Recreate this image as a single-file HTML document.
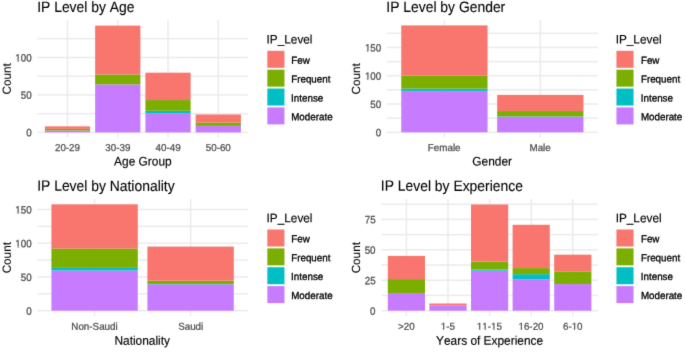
<!DOCTYPE html>
<html><head><meta charset="utf-8"><style>
html,body{margin:0;padding:0;background:#fff;width:685px;height:352px;overflow:hidden}
svg{display:block;will-change:transform}
text{font-family:"Liberation Sans",sans-serif;text-rendering:geometricPrecision;font-kerning:none;font-feature-settings:"kern" 0}
</style></head><body>
<svg width="685" height="352" viewBox="0 0 685 352">
<defs><filter id="b" x="0" y="0" width="685" height="352" filterUnits="userSpaceOnUse" color-interpolation-filters="sRGB"><feConvolveMatrix order="3" kernelMatrix="0.01000 0.08000 0.01000 0.08000 0.64000 0.08000 0.01000 0.08000 0.01000" edgeMode="duplicate" preserveAlpha="true"/></filter></defs>
<g filter="url(#b)">
<rect width="685" height="352" fill="#fff"/>
<rect x="37.4" y="112.91" width="210.5" height="1.5" fill="#EBEBEB"/>
<rect x="37.4" y="75.43" width="210.5" height="1.5" fill="#EBEBEB"/>
<rect x="37.4" y="37.95" width="210.5" height="1.5" fill="#EBEBEB"/>
<rect x="37.4" y="131.65" width="210.5" height="1.5" fill="#EBEBEB"/>
<rect x="37.4" y="94.17" width="210.5" height="1.5" fill="#EBEBEB"/>
<rect x="37.4" y="56.69" width="210.5" height="1.5" fill="#EBEBEB"/>
<rect x="66.75" y="20" width="1.5" height="117.5" fill="#EBEBEB"/>
<rect x="117.01" y="20" width="1.5" height="117.5" fill="#EBEBEB"/>
<rect x="167.27" y="20" width="1.5" height="117.5" fill="#EBEBEB"/>
<rect x="217.53" y="20" width="1.5" height="117.5" fill="#EBEBEB"/>
<rect x="44.89" y="130.5" width="45.23" height="1.9" fill="#C77CFF"/>
<rect x="44.89" y="128.9" width="45.23" height="1.6" fill="#7CAE00"/>
<rect x="44.89" y="126.35" width="45.23" height="2.55" fill="#F8766D"/>
<rect x="95.14" y="84.35" width="45.23" height="48.05" fill="#C77CFF"/>
<rect x="95.14" y="74.5" width="45.23" height="9.85" fill="#7CAE00"/>
<rect x="95.14" y="25.6" width="45.23" height="48.9" fill="#F8766D"/>
<rect x="145.4" y="113.55" width="45.23" height="18.85" fill="#C77CFF"/>
<rect x="145.4" y="110.8" width="45.23" height="2.75" fill="#00BFC4"/>
<rect x="145.4" y="100.05" width="45.23" height="10.75" fill="#7CAE00"/>
<rect x="145.4" y="72.7" width="45.23" height="27.35" fill="#F8766D"/>
<rect x="195.66" y="125.9" width="45.23" height="6.5" fill="#C77CFF"/>
<rect x="195.66" y="122.5" width="45.23" height="3.4" fill="#7CAE00"/>
<rect x="195.66" y="114.5" width="45.23" height="8" fill="#F8766D"/>
<text transform="matrix(1,0.0005,0,1.08,37.17,12)" font-size="13.9" fill="#000000" stroke="#000000" stroke-width="0.1">IP Level by Age</text>
<text transform="matrix(1,0.0005,0,1.08,26.22,136.35)" font-size="9.82" fill="#4D4D4D" stroke="#4D4D4D" stroke-width="0.25">0</text>
<text transform="matrix(1,0.0005,0,1.08,20.76,98.87)" font-size="9.82" fill="#4D4D4D" stroke="#4D4D4D" stroke-width="0.25">50</text>
<text transform="matrix(1,0.0005,0,1.08,15.3,61.39)" font-size="9.82" fill="#4D4D4D" stroke="#4D4D4D" stroke-width="0.25">100</text>
<text transform="matrix(1,0.0005,0,1.02,54.93,151)" font-size="9.82" fill="#4D4D4D" stroke="#4D4D4D" stroke-width="0.25">20-29</text>
<text transform="matrix(1,0.0005,0,1.02,105.25,151)" font-size="9.82" fill="#4D4D4D" stroke="#4D4D4D" stroke-width="0.25">30-39</text>
<text transform="matrix(1,0.0005,0,1.02,155.58,151)" font-size="9.82" fill="#4D4D4D" stroke="#4D4D4D" stroke-width="0.25">40-49</text>
<text transform="matrix(1,0.0005,0,1.02,205.72,151)" font-size="9.82" fill="#4D4D4D" stroke="#4D4D4D" stroke-width="0.25">50-60</text>
<text transform="matrix(1,0.0005,0,1.05,114.11,165.5)" font-size="11.9" fill="#000000" stroke="#000000" stroke-width="0.15">Age Group</text>
<text transform="matrix(0.0005,-1,1.0,0,10.7,94.41)" font-size="11.73" fill="#000000" stroke="#000000" stroke-width="0.1">Count</text>
<text transform="matrix(1,0.0005,0,1.035,266.56,43.6)" font-size="11.8" fill="#000000" stroke="#000000" stroke-width="0.15">IP_Level</text>
<rect x="267.35" y="50.8" width="17.1" height="17" fill="#F8766D"/>
<text transform="matrix(1,0.0005,0,1.04,291.2,63.65)" font-size="9.8" fill="#000000" stroke="#000000" stroke-width="0.3">Few</text>
<rect x="267.35" y="69.67" width="17.1" height="17" fill="#7CAE00"/>
<text transform="matrix(1,0.0005,0,1.04,291.2,82.52)" font-size="9.8" fill="#000000" stroke="#000000" stroke-width="0.3">Frequent</text>
<rect x="267.35" y="88.54" width="17.1" height="17" fill="#00BFC4"/>
<text transform="matrix(1,0.0005,0,1.04,291.1,101.39)" font-size="9.8" fill="#000000" stroke="#000000" stroke-width="0.3">Intense</text>
<rect x="267.35" y="107.41" width="17.1" height="17" fill="#C77CFF"/>
<text transform="matrix(1,0.0005,0,1.04,291.2,120.26)" font-size="9.8" fill="#000000" stroke="#000000" stroke-width="0.3">Moderate</text>
<rect x="386.95" y="117.41" width="210.8" height="1.5" fill="#EBEBEB"/>
<rect x="386.95" y="89.12" width="210.8" height="1.5" fill="#EBEBEB"/>
<rect x="386.95" y="60.84" width="210.8" height="1.5" fill="#EBEBEB"/>
<rect x="386.95" y="32.55" width="210.8" height="1.5" fill="#EBEBEB"/>
<rect x="386.95" y="131.55" width="210.8" height="1.5" fill="#EBEBEB"/>
<rect x="386.95" y="103.27" width="210.8" height="1.5" fill="#EBEBEB"/>
<rect x="386.95" y="74.98" width="210.8" height="1.5" fill="#EBEBEB"/>
<rect x="386.95" y="46.7" width="210.8" height="1.5" fill="#EBEBEB"/>
<rect x="443.65" y="20" width="1.5" height="117.5" fill="#EBEBEB"/>
<rect x="539.55" y="20" width="1.5" height="117.5" fill="#EBEBEB"/>
<rect x="401.25" y="90.9" width="86.3" height="41.4" fill="#C77CFF"/>
<rect x="401.25" y="88.6" width="86.3" height="2.3" fill="#00BFC4"/>
<rect x="401.25" y="75.5" width="86.3" height="13.1" fill="#7CAE00"/>
<rect x="401.25" y="25.4" width="86.3" height="50.1" fill="#F8766D"/>
<rect x="497.15" y="116.8" width="86.3" height="15.5" fill="#C77CFF"/>
<rect x="497.15" y="116.4" width="86.3" height="0.4" fill="#00BFC4"/>
<rect x="497.15" y="111.05" width="86.3" height="5.35" fill="#7CAE00"/>
<rect x="497.15" y="94.9" width="86.3" height="16.15" fill="#F8766D"/>
<text transform="matrix(1,0.0005,0,1.08,386.32,12)" font-size="13.9" fill="#000000" stroke="#000000" stroke-width="0.1">IP Level by Gender</text>
<text transform="matrix(1,0.0005,0,1.08,375.82,136.25)" font-size="9.82" fill="#4D4D4D" stroke="#4D4D4D" stroke-width="0.25">0</text>
<text transform="matrix(1,0.0005,0,1.08,370.36,107.97)" font-size="9.82" fill="#4D4D4D" stroke="#4D4D4D" stroke-width="0.25">50</text>
<text transform="matrix(1,0.0005,0,1.08,364.9,79.68)" font-size="9.82" fill="#4D4D4D" stroke="#4D4D4D" stroke-width="0.25">100</text>
<text transform="matrix(1,0.0005,0,1.08,364.9,51.4)" font-size="9.82" fill="#4D4D4D" stroke="#4D4D4D" stroke-width="0.25">150</text>
<text transform="matrix(1,0.0005,0,1.02,427.84,151)" font-size="9.82" fill="#4D4D4D" stroke="#4D4D4D" stroke-width="0.25">Female</text>
<text transform="matrix(1,0.0005,0,1.02,529.47,151)" font-size="9.82" fill="#4D4D4D" stroke="#4D4D4D" stroke-width="0.25">Male</text>
<text transform="matrix(1,0.0005,0,1.05,472.3,165.5)" font-size="11.9" fill="#000000" stroke="#000000" stroke-width="0.15">Gender</text>
<text transform="matrix(0.0005,-1,1.0,0,359.95,94.41)" font-size="11.73" fill="#000000" stroke="#000000" stroke-width="0.1">Count</text>
<text transform="matrix(1,0.0005,0,1.035,615.66,43.6)" font-size="11.8" fill="#000000" stroke="#000000" stroke-width="0.15">IP_Level</text>
<rect x="616.45" y="50.8" width="17.1" height="17" fill="#F8766D"/>
<text transform="matrix(1,0.0005,0,1.04,640.9,63.65)" font-size="9.8" fill="#000000" stroke="#000000" stroke-width="0.3">Few</text>
<rect x="616.45" y="69.67" width="17.1" height="17" fill="#7CAE00"/>
<text transform="matrix(1,0.0005,0,1.04,640.9,82.52)" font-size="9.8" fill="#000000" stroke="#000000" stroke-width="0.3">Frequent</text>
<rect x="616.45" y="88.54" width="17.1" height="17" fill="#00BFC4"/>
<text transform="matrix(1,0.0005,0,1.04,640.8,101.39)" font-size="9.8" fill="#000000" stroke="#000000" stroke-width="0.3">Intense</text>
<rect x="616.45" y="107.41" width="17.1" height="17" fill="#C77CFF"/>
<text transform="matrix(1,0.0005,0,1.04,640.9,120.26)" font-size="9.8" fill="#000000" stroke="#000000" stroke-width="0.3">Moderate</text>
<rect x="37.4" y="293.08" width="210.6" height="1.5" fill="#EBEBEB"/>
<rect x="37.4" y="259.35" width="210.6" height="1.5" fill="#EBEBEB"/>
<rect x="37.4" y="225.61" width="210.6" height="1.5" fill="#EBEBEB"/>
<rect x="37.4" y="309.95" width="210.6" height="1.5" fill="#EBEBEB"/>
<rect x="37.4" y="276.21" width="210.6" height="1.5" fill="#EBEBEB"/>
<rect x="37.4" y="242.48" width="210.6" height="1.5" fill="#EBEBEB"/>
<rect x="37.4" y="208.75" width="210.6" height="1.5" fill="#EBEBEB"/>
<rect x="93.85" y="199" width="1.5" height="116.9" fill="#EBEBEB"/>
<rect x="189.85" y="199" width="1.5" height="116.9" fill="#EBEBEB"/>
<rect x="51.4" y="270.5" width="86.4" height="40.2" fill="#C77CFF"/>
<rect x="51.4" y="267.9" width="86.4" height="2.6" fill="#00BFC4"/>
<rect x="51.4" y="248.5" width="86.4" height="19.4" fill="#7CAE00"/>
<rect x="51.4" y="204.3" width="86.4" height="44.2" fill="#F8766D"/>
<rect x="147.4" y="284.3" width="86.4" height="26.4" fill="#C77CFF"/>
<rect x="147.4" y="283.95" width="86.4" height="0.35" fill="#00BFC4"/>
<rect x="147.4" y="280.7" width="86.4" height="3.25" fill="#7CAE00"/>
<rect x="147.4" y="246.6" width="86.4" height="34.1" fill="#F8766D"/>
<text transform="matrix(1,0.0005,0,1.08,37.17,190.86)" font-size="13.9" fill="#000000" stroke="#000000" stroke-width="0.1">IP Level by Nationality</text>
<text transform="matrix(1,0.0005,0,1.08,26.22,314.65)" font-size="9.82" fill="#4D4D4D" stroke="#4D4D4D" stroke-width="0.25">0</text>
<text transform="matrix(1,0.0005,0,1.08,20.76,280.91)" font-size="9.82" fill="#4D4D4D" stroke="#4D4D4D" stroke-width="0.25">50</text>
<text transform="matrix(1,0.0005,0,1.08,15.3,247.18)" font-size="9.82" fill="#4D4D4D" stroke="#4D4D4D" stroke-width="0.25">100</text>
<text transform="matrix(1,0.0005,0,1.08,15.3,213.44)" font-size="9.82" fill="#4D4D4D" stroke="#4D4D4D" stroke-width="0.25">150</text>
<text transform="matrix(1,0.0005,0,1.02,71.33,329.7)" font-size="9.82" fill="#4D4D4D" stroke="#4D4D4D" stroke-width="0.25">Non-Saudi</text>
<text transform="matrix(1,0.0005,0,1.02,178.15,329.7)" font-size="9.82" fill="#4D4D4D" stroke="#4D4D4D" stroke-width="0.25">Saudi</text>
<text transform="matrix(1,0.0005,0,1.05,114.44,344.8)" font-size="11.9" fill="#000000" stroke="#000000" stroke-width="0.15">Nationality</text>
<text transform="matrix(0.0005,-1,1.0,0,10.7,273.36)" font-size="11.73" fill="#000000" stroke="#000000" stroke-width="0.1">Count</text>
<text transform="matrix(1,0.0005,0,1.035,266.56,222.3)" font-size="11.8" fill="#000000" stroke="#000000" stroke-width="0.15">IP_Level</text>
<rect x="267.35" y="229.5" width="17.1" height="17" fill="#F8766D"/>
<text transform="matrix(1,0.0005,0,1.04,291.2,242.35)" font-size="9.8" fill="#000000" stroke="#000000" stroke-width="0.3">Few</text>
<rect x="267.35" y="248.37" width="17.1" height="17" fill="#7CAE00"/>
<text transform="matrix(1,0.0005,0,1.04,291.2,261.22)" font-size="9.8" fill="#000000" stroke="#000000" stroke-width="0.3">Frequent</text>
<rect x="267.35" y="267.24" width="17.1" height="17" fill="#00BFC4"/>
<text transform="matrix(1,0.0005,0,1.04,291.1,280.09)" font-size="9.8" fill="#000000" stroke="#000000" stroke-width="0.3">Intense</text>
<rect x="267.35" y="286.11" width="17.1" height="17" fill="#C77CFF"/>
<text transform="matrix(1,0.0005,0,1.04,291.2,298.96)" font-size="9.8" fill="#000000" stroke="#000000" stroke-width="0.3">Moderate</text>
<rect x="381.2" y="294.73" width="216.55" height="1.5" fill="#EBEBEB"/>
<rect x="381.2" y="264.3" width="216.55" height="1.5" fill="#EBEBEB"/>
<rect x="381.2" y="233.87" width="216.55" height="1.5" fill="#EBEBEB"/>
<rect x="381.2" y="203.44" width="216.55" height="1.5" fill="#EBEBEB"/>
<rect x="381.2" y="309.95" width="216.55" height="1.5" fill="#EBEBEB"/>
<rect x="381.2" y="279.52" width="216.55" height="1.5" fill="#EBEBEB"/>
<rect x="381.2" y="249.08" width="216.55" height="1.5" fill="#EBEBEB"/>
<rect x="381.2" y="218.65" width="216.55" height="1.5" fill="#EBEBEB"/>
<rect x="405.65" y="199" width="1.5" height="116.9" fill="#EBEBEB"/>
<rect x="447.25" y="199" width="1.5" height="116.9" fill="#EBEBEB"/>
<rect x="488.85" y="199" width="1.5" height="116.9" fill="#EBEBEB"/>
<rect x="530.45" y="199" width="1.5" height="116.9" fill="#EBEBEB"/>
<rect x="572.05" y="199" width="1.5" height="116.9" fill="#EBEBEB"/>
<rect x="387.8" y="293" width="37.2" height="17.7" fill="#C77CFF"/>
<rect x="387.8" y="279.1" width="37.2" height="13.9" fill="#7CAE00"/>
<rect x="387.8" y="255.9" width="37.2" height="23.2" fill="#F8766D"/>
<rect x="429.4" y="305.4" width="37.2" height="5.3" fill="#C77CFF"/>
<rect x="429.4" y="303.5" width="37.2" height="1.9" fill="#F8766D"/>
<rect x="471" y="270.7" width="37.2" height="40" fill="#C77CFF"/>
<rect x="471" y="269.5" width="37.2" height="1.2" fill="#00BFC4"/>
<rect x="471" y="261.5" width="37.2" height="8" fill="#7CAE00"/>
<rect x="471" y="204.5" width="37.2" height="57" fill="#F8766D"/>
<rect x="512.6" y="279.25" width="37.2" height="31.45" fill="#C77CFF"/>
<rect x="512.6" y="274.15" width="37.2" height="5.1" fill="#00BFC4"/>
<rect x="512.6" y="268.1" width="37.2" height="6.05" fill="#7CAE00"/>
<rect x="512.6" y="224.8" width="37.2" height="43.3" fill="#F8766D"/>
<rect x="554.2" y="284.05" width="37.2" height="26.65" fill="#C77CFF"/>
<rect x="554.2" y="271.4" width="37.2" height="12.65" fill="#7CAE00"/>
<rect x="554.2" y="254.7" width="37.2" height="16.7" fill="#F8766D"/>
<text transform="matrix(1,0.0005,0,1.08,380.82,190.86)" font-size="13.9" fill="#000000" stroke="#000000" stroke-width="0.1">IP Level by Experience</text>
<text transform="matrix(1,0.0005,0,1.08,370.12,314.65)" font-size="9.82" fill="#4D4D4D" stroke="#4D4D4D" stroke-width="0.25">0</text>
<text transform="matrix(1,0.0005,0,1.08,364.69,284.22)" font-size="9.82" fill="#4D4D4D" stroke="#4D4D4D" stroke-width="0.25">25</text>
<text transform="matrix(1,0.0005,0,1.08,364.66,253.78)" font-size="9.82" fill="#4D4D4D" stroke="#4D4D4D" stroke-width="0.25">50</text>
<text transform="matrix(1,0.0005,0,1.08,364.69,223.35)" font-size="9.82" fill="#4D4D4D" stroke="#4D4D4D" stroke-width="0.25">75</text>
<text transform="matrix(1,0.0005,0,1.02,398.02,329.7)" font-size="9.82" fill="#4D4D4D" stroke="#4D4D4D" stroke-width="0.25">&gt;20</text>
<text transform="matrix(1,0.0005,0,1.02,440.74,329.7)" font-size="9.82" fill="#4D4D4D" stroke="#4D4D4D" stroke-width="0.25">1-5</text>
<text transform="matrix(1,0.0005,0,1.02,476.87,329.7)" font-size="9.82" fill="#4D4D4D" stroke="#4D4D4D" stroke-width="0.25">11-15</text>
<text transform="matrix(1,0.0005,0,1.02,518.46,329.7)" font-size="9.82" fill="#4D4D4D" stroke="#4D4D4D" stroke-width="0.25">16-20</text>
<text transform="matrix(1,0.0005,0,1.02,562.92,329.7)" font-size="9.82" fill="#4D4D4D" stroke="#4D4D4D" stroke-width="0.25">6-10</text>
<text transform="matrix(1,0.0005,0,1.05,436.03,344.8)" font-size="11.9" fill="#000000" stroke="#000000" stroke-width="0.15">Years of Experience</text>
<text transform="matrix(0.0005,-1,1.0,0,359.95,273.36)" font-size="11.73" fill="#000000" stroke="#000000" stroke-width="0.1">Count</text>
<text transform="matrix(1,0.0005,0,1.035,615.66,222.3)" font-size="11.8" fill="#000000" stroke="#000000" stroke-width="0.15">IP_Level</text>
<rect x="616.45" y="229.5" width="17.1" height="17" fill="#F8766D"/>
<text transform="matrix(1,0.0005,0,1.04,640.9,242.35)" font-size="9.8" fill="#000000" stroke="#000000" stroke-width="0.3">Few</text>
<rect x="616.45" y="248.37" width="17.1" height="17" fill="#7CAE00"/>
<text transform="matrix(1,0.0005,0,1.04,640.9,261.22)" font-size="9.8" fill="#000000" stroke="#000000" stroke-width="0.3">Frequent</text>
<rect x="616.45" y="267.24" width="17.1" height="17" fill="#00BFC4"/>
<text transform="matrix(1,0.0005,0,1.04,640.8,280.09)" font-size="9.8" fill="#000000" stroke="#000000" stroke-width="0.3">Intense</text>
<rect x="616.45" y="286.11" width="17.1" height="17" fill="#C77CFF"/>
<text transform="matrix(1,0.0005,0,1.04,640.9,298.96)" font-size="9.8" fill="#000000" stroke="#000000" stroke-width="0.3">Moderate</text>
<rect x="15.2" y="60.24" width="2.48" height="1.95" fill="#fff"/>
<rect x="18.72" y="60.24" width="2.23" height="1.95" fill="#fff"/>
<rect x="364.8" y="78.53" width="2.48" height="1.95" fill="#fff"/>
<rect x="368.32" y="78.53" width="2.23" height="1.95" fill="#fff"/>
<rect x="364.8" y="50.25" width="2.48" height="1.95" fill="#fff"/>
<rect x="368.32" y="50.25" width="2.23" height="1.95" fill="#fff"/>
<rect x="15.2" y="246.03" width="2.48" height="1.95" fill="#fff"/>
<rect x="18.72" y="246.03" width="2.23" height="1.95" fill="#fff"/>
<rect x="15.2" y="212.3" width="2.48" height="1.95" fill="#fff"/>
<rect x="18.72" y="212.3" width="2.23" height="1.95" fill="#fff"/>
<rect x="440.64" y="328.6" width="2.48" height="1.9" fill="#fff"/>
<rect x="444.15" y="328.6" width="2.23" height="1.9" fill="#fff"/>
<rect x="476.78" y="328.6" width="2.48" height="1.9" fill="#fff"/>
<rect x="480.29" y="328.6" width="2.23" height="1.9" fill="#fff"/>
<rect x="482.24" y="328.6" width="2.48" height="1.9" fill="#fff"/>
<rect x="485.75" y="328.6" width="2.23" height="1.9" fill="#fff"/>
<rect x="490.97" y="328.6" width="2.48" height="1.9" fill="#fff"/>
<rect x="494.48" y="328.6" width="2.23" height="1.9" fill="#fff"/>
<rect x="518.36" y="328.6" width="2.48" height="1.9" fill="#fff"/>
<rect x="521.88" y="328.6" width="2.23" height="1.9" fill="#fff"/>
<rect x="571.55" y="328.6" width="2.48" height="1.9" fill="#fff"/>
<rect x="575.06" y="328.6" width="2.23" height="1.9" fill="#fff"/>
</g>
</svg></body></html>
